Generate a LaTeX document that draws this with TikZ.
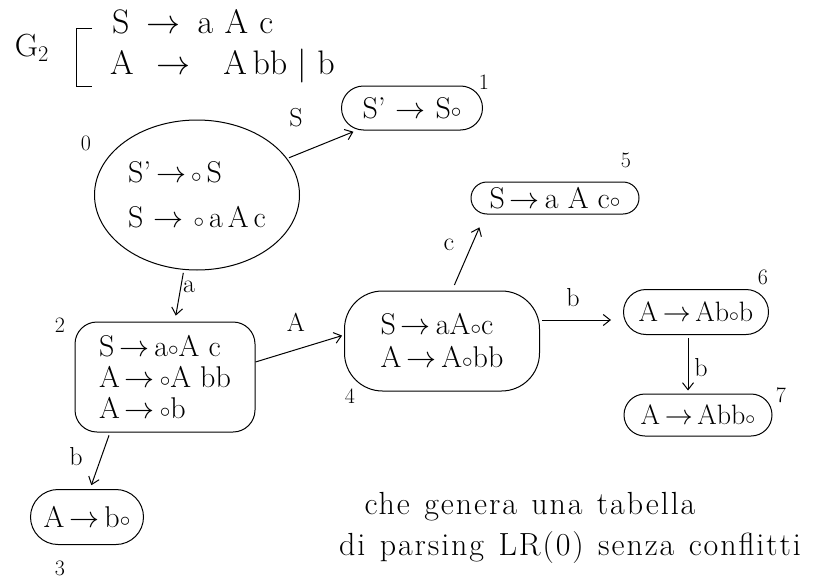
\RequirePackage{fix-cm}
\documentclass[tikz,border=0pt]{standalone}
\usepackage{fontspec}
\usetikzlibrary{arrows.meta,shapes.misc,shapes.geometric}
\newfontfamily\notefamily[LetterSpace=6.0]{Latin Modern Roman}
\newcommand{\itm}{\raisebox{0.05ex}{$\scriptstyle\circ$}}
\newcommand{\tto}{\,$\rightarrow$\,}
\newcommand{\notefont}{\notefamily\fontsize{32}{36}\selectfont\spaceskip=0.45em\relax}
\begin{document}
\begin{tikzpicture}[x=1pt,y=-1pt,
  base/.style={draw, line width=1pt, font=\fontsize{30}{31}\selectfont, align=left, inner sep=2pt},
  blob/.style={base, ellipse, minimum width=205pt, minimum height=150pt},
  box/.style={base, rounded corners=22pt},
  pill/.style={base, rounded rectangle},
  arr/.style={-{Straight Barb[length=7pt,width=11pt]}, line width=1pt},
  lbl/.style={font=\fontsize{26}{28}\selectfont, inner sep=1pt},
  num/.style={font=\fontsize{22}{24}\selectfont, inner sep=1pt},
  hand/.style={font=\fontsize{34}{36}\selectfont, inner sep=0pt, anchor=west},
  note/.style={font=\notefont, inner sep=0pt}]
\useasboundingbox (0,0) rectangle (821,578);

% grammar
\node[font=\fontsize{32}{34}\selectfont] (g) at (32,48) {G$_2$};
\draw[line width=1pt] (92,29) -- (76,29) -- (76,86) -- (92,86);
\node[hand] (p1) at (112,22) {S\enspace$\rightarrow$\enspace a\,\,A\,\,c};
\node[hand] (p2) at (110,66) {A\enspace\,$\rightarrow$\enspace\, A\,bb $|$ b};

% states
\node[blob] (s0) at (197,195) {S'\tto\itm\,S\\[14pt]S\,\tto\,\itm\,a\,A\,c};
\node[num] (n0) at (86,143) {0};

\node[pill, minimum width=145pt, minimum height=44pt] (s1) at (412,108) {S'\,\tto\,S\itm};
\node[num] (n1) at (484,82) {1};

\node[box, minimum width=180pt, minimum height=110pt] (s2) at (165,377) {S\tto a\itm A c\\A\tto\itm A bb\\A\tto\itm b};
\node[num] (n2) at (60,325) {2};

\node[pill, minimum width=117pt, minimum height=55pt] (s3) at (87,517) {A\tto b\itm};
\node[num] (n3) at (60,568) {3};

\node[box, rounded corners=38pt, minimum width=195pt, minimum height=100pt, font=\fontsize{30}{33}\selectfont] (s4) at (442,341) {S\tto aA\itm c\\A\tto A\itm bb};
\node[num] (n4) at (350,396) {4};

\node[pill, minimum width=170pt, minimum height=32pt, inner sep=1pt] (s5) at (555,198) {S\tto a A c\itm};
\node[num] (n5) at (626,160) {5};

\node[pill, minimum width=145pt, minimum height=45pt, inner sep=0pt, font=\fontsize{28}{30}\selectfont] (s6) at (696,312) {A\tto Ab\itm b};
\node[num] (n6) at (763,277) {6};

\node[pill, minimum width=148pt, minimum height=42pt, inner sep=0pt, font=\fontsize{28}{30}\selectfont] (s7) at (698,415) {A\tto Abb\itm};
\node[num] (n7) at (781,395) {7};

% transitions
\draw[arr, shorten <=2pt, shorten >=5pt] (s0) -- (s1);
\node[lbl] (l01) at (296,118) {S};
\draw[arr, shorten <=3pt, shorten >=6pt] (s0) -- (s2);
\node[lbl] (l02) at (189,287) {a};
\draw[arr, shorten <=3pt, shorten >=4pt] ([xshift=-55pt]s2.south) -- ([xshift=3pt]s3.north);
\node[lbl] (l23) at (76,457) {b};
\draw[arr, shorten >=2pt] ([yshift=15pt]s2.east) -- ([yshift=6pt]s4.west);
\node[lbl] (l24) at (296,322) {A};
\draw[arr, shorten <=6pt, shorten >=14pt] ([xshift=10pt]s4.north) -- ([xshift=-70pt]s5.south);
\node[lbl] (l45) at (449,245) {c};
\draw[arr, shorten <=2pt, shorten >=12pt] ([yshift=21pt]s4.east) -- ([yshift=-8pt]s6.west);
\node[lbl] (l46) at (573,298) {b};
\draw[arr, shorten <=3pt, shorten >=3pt] ([xshift=-8pt]s6.south) -- ([xshift=-10pt]s7.north);
\node[lbl] (l67) at (701,368) {b};

% note
\node[note] (t1) at (530,507) {che genera una tabella};
\node[note] (t2) at (570,548) {di parsing LR(0) senza conflitti};
\end{tikzpicture}
\end{document}
